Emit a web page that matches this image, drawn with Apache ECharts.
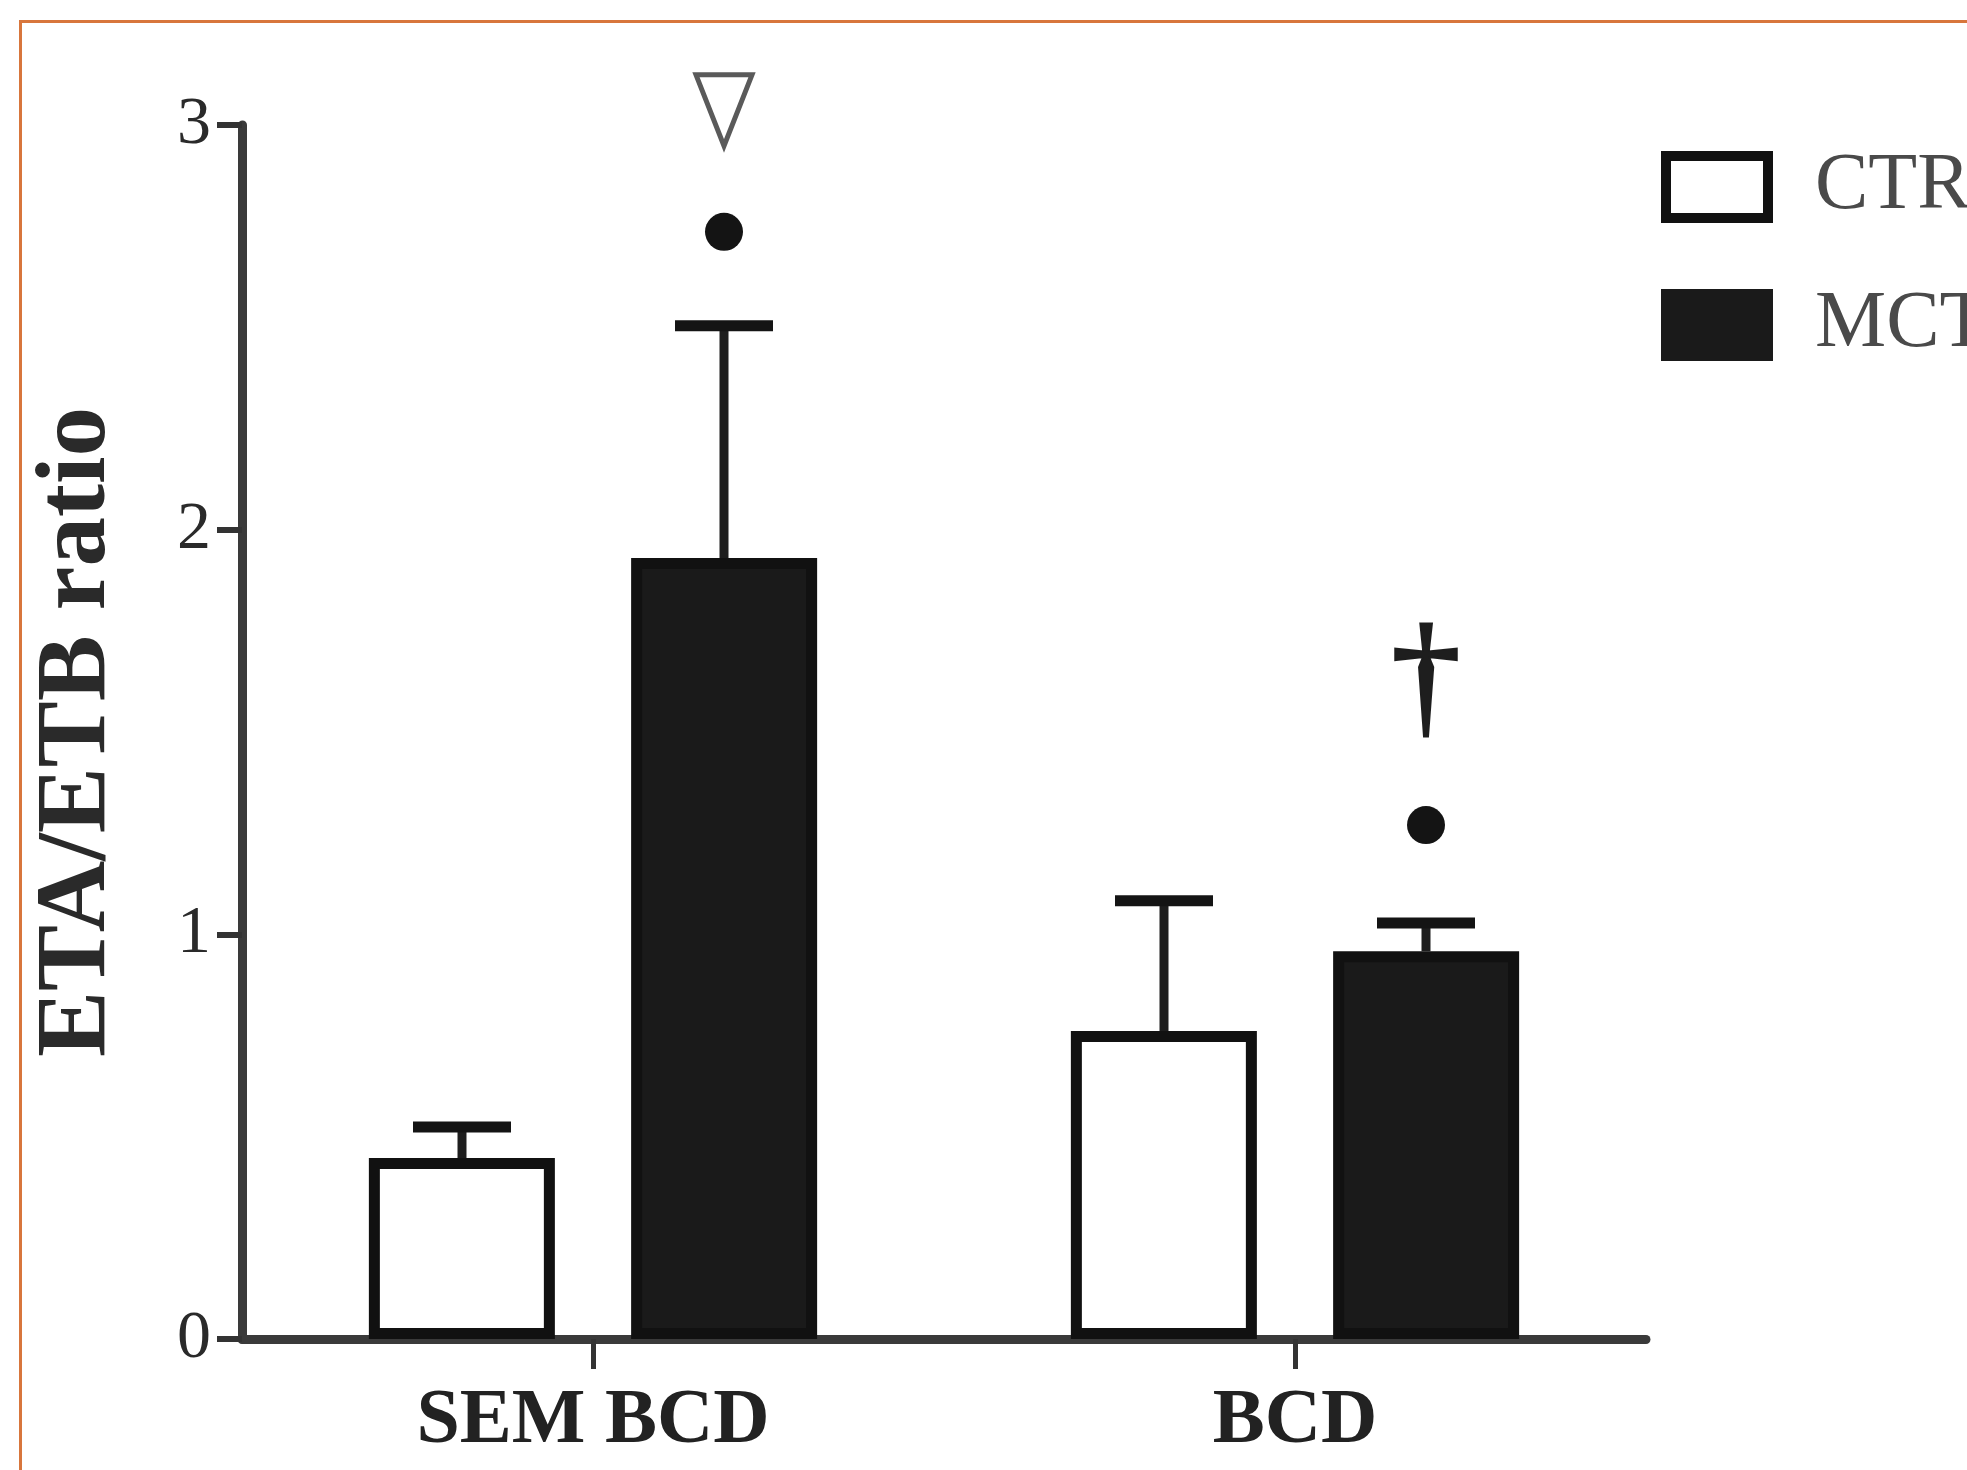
<!DOCTYPE html>
<html><head><meta charset="utf-8">
<script src="https://cdn.jsdelivr.net/npm/echarts@6/dist/echarts.min.js"></script>
<style>
html,body{margin:0;padding:0;background:#fff;overflow:hidden;}
#c{width:1967px;height:1470px;}
#frame{position:absolute;left:19px;top:20px;width:2000px;height:1500px;border-top:3px solid #d8763c;border-left:3px solid #d8763c;pointer-events:none;}
</style></head>
<body><div id="c"></div><div id="frame"></div>
<script>
// ---- data ----
const categories = ['SEM BCD', 'BCD'];
const ctrMean = [0.447, 0.761];
const ctrErr  = [0.077, 0.322];
const mctMean = [1.93, 0.958];
const mctErr  = [0.574, 0.070];
const yTicks  = [0, 1, 2, 3];
const dotMarks      = [[0, 2.736], [1, 1.27]];   // above MCT bars
const triangleMarks = [[0, 3.04]];               // above MCT bar
const daggerMarks   = [[1, 1.62]];               // above MCT bar

// ---- styling ----
const BAR_W = 186, OFF = 131; // bar width and centre offset (barGap 41%)
const chart = echarts.init(document.getElementById('c'));

function errRender(side) {
  return function (params, api) {
    const x = api.value(0), m = api.value(1), e = api.value(2);
    const p0 = api.coord([x, m]);
    const p1 = api.coord([x, m + e]);
    const cx = p0[0] + side * OFF;
    return { type: 'group', children: [
      { type: 'line', shape: { x1: cx, y1: p0[1], x2: cx, y2: p1[1] }, style: { stroke: '#1e1e1e', lineWidth: 9 } },
      { type: 'line', shape: { x1: cx - 49, y1: p1[1], x2: cx + 49, y2: p1[1] }, style: { stroke: '#141414', lineWidth: 11 } }
    ]};
  };
}
function dotRender(params, api) {
  const p = api.coord([api.value(0), api.value(1)]);
  return { type: 'circle', shape: { cx: p[0] + OFF, cy: p[1], r: 19 }, style: { fill: '#141414' } };
}
function triRender(params, api) {
  const p = api.coord([api.value(0), api.value(1)]);
  const cx = p[0] + OFF, cy = p[1];
  return { type: 'polygon', shape: { points: [[cx - 28, cy - 34], [cx + 28, cy - 34], [cx, cy + 37]] },
    style: { fill: '#fff', stroke: '#5a5a5a', lineWidth: 5, lineJoin: 'miter' } };
}
function daggerRender(params, api) {
  const p = api.coord([api.value(0), api.value(1)]);
  return { type: 'text', x: p[0] + OFF, y: p[1],
    style: { text: '\u2020', font: '138px "Liberation Serif"', fill: '#1e1e1e', align: 'center', verticalAlign: 'middle',
      stroke: '#1e1e1e', lineWidth: 3 } };
}

const serif = '"Liberation Serif", "DejaVu Serif", serif';

chart.setOption({
  backgroundColor: '#ffffff',
  animation: false,
  grid: { left: 242, right: 321, top: 125, bottom: 131, containLabel: false },
  legend: {
    orient: 'vertical', left: 1656, top: 142,
    itemWidth: 102, itemHeight: 62, itemGap: 58, icon: 'rect',
    textStyle: { fontFamily: serif, fontSize: 80, color: '#4a4a4a', lineHeight: 62, padding: [0, 0, 0, 42] },
    data: [
      { name: 'CTR', itemStyle: { color: '#ffffff', borderColor: '#111', borderWidth: 10 } },
      { name: 'MCT', itemStyle: { color: '#1a1a1a', borderColor: '#1a1a1a', borderWidth: 10 } }
    ]
  },
  xAxis: {
    type: 'category', data: categories,
    axisLine: { show: true, lineStyle: { color: '#3a3a3a', width: 9 } },
    axisTick: { show: true, alignWithLabel: true, length: 30, lineStyle: { color: '#333', width: 5 } },
    axisLabel: { fontFamily: serif, fontWeight: 'bold', fontSize: 78, color: '#222', margin: 44 },
    splitLine: { show: false }
  },
  yAxis: {
    type: 'value', min: yTicks[0], max: yTicks[yTicks.length - 1], interval: 1,
    name: 'ETA/ETB ratio', nameLocation: 'middle', nameGap: 114,
    nameTextStyle: { fontFamily: serif, fontWeight: 'bold', fontSize: 99, color: '#2a2a2a' },
    axisLine: { show: true, lineStyle: { color: '#3a3a3a', width: 9 } },
    axisTick: { show: true, length: 25, lineStyle: { color: '#333', width: 6 } },
    axisLabel: { fontFamily: serif, fontSize: 68, color: '#2a2a2a', margin: 31 },
    splitLine: { show: false }
  },
  series: [
    { name: 'CTR', type: 'bar', data: ctrMean, barWidth: BAR_W, barGap: '41%',
      itemStyle: { color: '#ffffff', borderColor: '#111', borderWidth: 11 } },
    { name: 'MCT', type: 'bar', data: mctMean, barWidth: BAR_W,
      itemStyle: { color: '#1a1a1a', borderColor: '#111', borderWidth: 11 } },
    { name: 'ctrErr', type: 'custom', renderItem: errRender(-1), z: 5, clip: false,
      data: categories.map((c, i) => [i, ctrMean[i], ctrErr[i]]) },
    { name: 'mctErr', type: 'custom', renderItem: errRender(1), z: 5, clip: false,
      data: categories.map((c, i) => [i, mctMean[i], mctErr[i]]) },
    { name: 'dots', type: 'custom', renderItem: dotRender, z: 6, clip: false, data: dotMarks },
    { name: 'tri', type: 'custom', renderItem: triRender, z: 6, clip: false, data: triangleMarks },
    { name: 'dagger', type: 'custom', renderItem: daggerRender, z: 6, clip: false, data: daggerMarks }
  ]
});
</script>
</body></html>
